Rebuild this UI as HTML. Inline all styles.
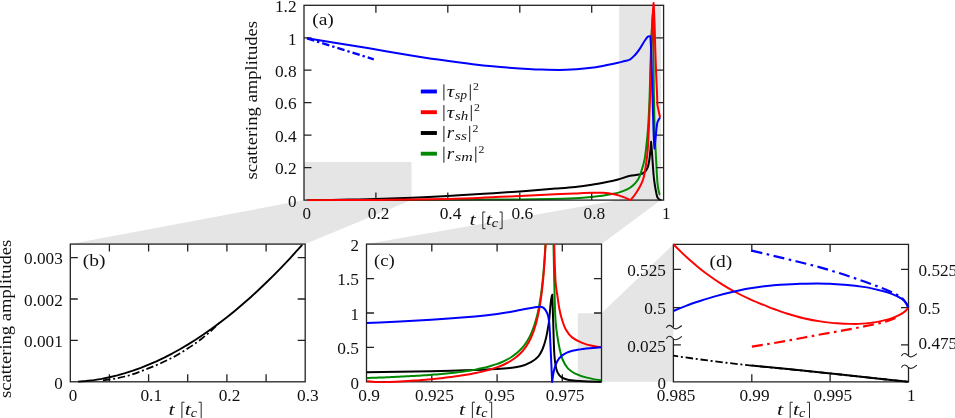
<!DOCTYPE html>
<html><head><meta charset="utf-8"><title>scattering amplitudes</title>
<style>
html,body{margin:0;padding:0;background:#fff;}
body{width:955px;height:418px;overflow:hidden;}
svg{display:block;}
text{font-family:"Liberation Serif",serif;fill:#111;}
.it{font-style:italic;}
</style></head><body>
<div style="will-change:transform;width:955px;height:418px"><svg width="955" height="418" viewBox="0 0 955 418">
<rect width="955" height="418" fill="#fff"/>
<polygon points="304.0,162.0 411.5,162.0 411.5,200.1 304.0,200.1" fill="#e5e5e5"/>
<polygon points="619.2,5.3 661.0,5.3 661.0,200.1 619.2,200.1" fill="#e5e5e5"/>
<polygon points="304.0,200.1 411.5,200.1 305.2,244.1 70.3,244.1" fill="#e5e5e5"/>
<polygon points="619.2,200.1 661.0,200.1 601.5,244.1 366.5,244.1" fill="#e5e5e5"/>
<polygon points="577.8,313.2 601.5,313.2 601.5,381.8 577.8,381.8" fill="#e5e5e5"/>
<polygon points="601.5,313.2 673.4,244.4 673.4,381.8 601.5,381.8" fill="#e5e5e5"/>
<clipPath id="clipa"><rect x="304.0" y="0" width="359.6" height="201.29999999999998"/></clipPath>
<g clip-path="url(#clipa)">
<path d="M307.00,38.40 L373.80,59.30" fill="none" stroke="#0000ff" stroke-width="2.3" stroke-linejoin="round" stroke-dasharray="7.5 3 2.4 3" />
<path d="M307.24,200.10 C312.15,200.08 317.07,200.05 321.98,200.00 C327.97,199.95 333.97,199.86 339.96,199.76 C345.95,199.67 351.95,199.54 357.94,199.40 C363.93,199.26 369.93,199.10 375.92,198.92 C387.91,198.55 399.89,198.12 411.88,197.63 C423.87,197.14 435.85,196.55 447.84,195.93 C459.83,195.30 471.81,194.60 483.80,193.84 C495.79,193.09 507.77,192.26 519.76,191.39 C531.75,190.51 543.73,189.56 555.72,188.57 C562.19,188.04 568.67,187.57 575.14,186.90 C580.66,186.33 586.18,185.63 591.70,184.80 C596.73,184.04 601.77,183.02 606.80,182.00 C610.53,181.24 614.27,180.46 618.00,179.50 C622.07,178.46 626.13,176.53 630.20,175.80 C633.27,175.25 636.33,175.25 639.40,174.60 C641.07,174.25 642.73,173.59 644.40,172.40 C645.47,171.64 646.53,170.05 647.60,167.50 C648.20,166.07 648.80,163.26 649.40,159.50 C649.73,157.41 650.07,153.52 650.40,150.00 C650.63,147.54 650.87,144.75 651.10,141.80 C651.33,144.23 651.57,147.00 651.80,150.00 C652.03,153.00 652.27,156.74 652.50,160.00 C652.87,165.13 653.23,171.14 653.60,175.00 C653.87,177.81 654.13,180.05 654.40,182.00 C654.83,185.18 655.27,187.79 655.70,190.00 C656.27,192.89 656.83,196.21 657.40,197.30 C657.93,198.33 658.47,199.04 659.00,199.30 C659.83,199.70 660.67,200.00 661.50,200.00" fill="none" stroke="#000" stroke-width="2.0" stroke-linejoin="round" />
<path d="M307.00,200.10 C338.00,200.06 369.00,199.99 400.00,199.90 C426.67,199.83 453.33,199.72 480.00,199.60 C493.00,199.54 506.00,199.50 519.00,199.40 C529.33,199.32 539.67,199.19 550.00,199.00 C558.47,198.84 566.93,198.58 575.40,198.20 C580.83,197.95 586.27,197.51 591.70,197.00 C594.47,196.74 597.23,196.38 600.00,196.00 C602.27,195.69 604.53,195.28 606.80,194.90 C608.87,194.55 610.93,194.21 613.00,193.80 C615.10,193.39 617.20,192.98 619.30,192.40 C622.07,191.63 624.83,190.61 627.60,189.20 C629.57,188.20 631.53,186.78 633.50,185.00 C634.90,183.73 636.30,182.11 637.70,180.00 C638.27,179.15 638.83,178.08 639.40,176.80 C640.50,174.31 641.60,170.63 642.70,166.80 C643.40,164.36 644.10,162.20 644.80,158.40 C645.17,156.41 645.53,153.13 645.90,150.00 C646.57,144.30 647.23,138.79 647.90,130.00 C648.43,122.96 648.97,113.21 649.50,100.00 C649.87,90.92 650.23,73.06 650.60,62.00 C651.00,49.94 651.40,37.50 651.80,30.00 C652.17,23.13 652.53,17.21 652.90,14.00 C653.03,20.59 653.17,29.58 653.30,40.00 C653.47,53.03 653.63,78.60 653.80,90.00 C654.07,108.25 654.33,122.26 654.60,130.00 C654.93,139.68 655.27,143.57 655.60,150.00 C655.90,155.79 656.20,161.48 656.50,166.80 C656.80,172.12 657.10,178.77 657.40,182.00 C657.67,184.88 657.93,186.95 658.20,188.40 C658.77,191.49 659.33,194.39 659.90,195.00" fill="none" stroke="#008800" stroke-width="2.0" stroke-linejoin="round" />
</g>
<rect x="304.0" y="5.3" width="359.6" height="194.8" fill="none" stroke="#222" stroke-width="1.3"/>
<path d="M375.9,200.1 v-7.5 M375.9,5.3 v7.5 M447.8,200.1 v-7.5 M447.8,5.3 v7.5 M519.8,200.1 v-7.5 M519.8,5.3 v7.5 M591.7,200.1 v-7.5 M591.7,5.3 v7.5 M304.0,167.6 h7.5 M304.0,135.2 h7.5 M304.0,102.7 h7.5 M304.0,70.2 h7.5 M304.0,37.8 h7.5 M663.6,167.6 h-7.5 M663.6,135.2 h-7.5 M663.6,102.7 h-7.5 M663.6,70.2 h-7.5 M663.6,37.8 h-7.5 " fill="none" stroke="#222" stroke-width="1.3"/>
<g clip-path="url(#clipa)">
<path d="M307.00,200.20 C318.00,200.18 329.00,200.14 340.00,200.10 C352.00,200.05 364.00,199.99 376.00,199.90 C388.00,199.81 400.00,199.66 412.00,199.50 C424.00,199.34 436.00,199.17 448.00,198.90 C460.00,198.63 472.00,198.11 484.00,197.60 C489.33,197.37 494.67,197.04 500.00,196.80 C506.67,196.50 513.33,196.30 520.00,196.00 C530.00,195.55 540.00,194.86 550.00,194.40 C558.33,194.02 566.67,193.71 575.00,193.40 C580.57,193.19 586.13,192.80 591.70,192.80 C595.47,192.80 599.23,192.80 603.00,192.80 C605.33,192.80 607.67,193.10 610.00,193.40 C611.00,193.53 612.00,193.78 613.00,194.00 C615.10,194.46 617.20,194.98 619.30,195.60 C621.23,196.17 623.17,196.82 625.10,197.60 C626.23,198.06 627.37,198.69 628.50,199.20 C629.20,199.51 629.90,199.81 630.60,200.10 C631.40,199.20 632.20,198.23 633.00,197.20 C633.73,196.26 634.47,195.27 635.20,194.20 C636.60,192.16 638.00,190.08 639.40,187.50 C640.63,185.23 641.87,183.31 643.10,179.50 C644.10,176.41 645.10,170.67 646.10,164.00 C646.63,160.44 647.17,156.50 647.70,150.00 C648.13,144.72 648.57,134.82 649.00,125.00 C649.37,116.69 649.73,107.17 650.10,95.00 C650.37,86.15 650.63,71.90 650.90,62.00 C651.17,52.10 651.43,41.76 651.70,35.00 C652.03,26.55 652.37,20.31 652.70,15.00 C653.00,10.22 653.30,6.05 653.60,3.00 C653.93,7.64 654.27,15.80 654.60,25.00 C654.83,31.44 655.07,42.67 655.30,50.00 C655.60,59.42 655.90,67.56 656.20,75.00 C656.47,81.62 656.73,87.66 657.00,93.00 L657.4,105 L660.1,117.6" fill="none" stroke="#ff0000" stroke-width="2.0" stroke-linejoin="round" />
<path d="M307.00,38.30 C316.20,39.81 325.40,41.32 334.60,42.80 C346.10,44.65 357.60,46.41 369.10,48.30 C380.63,50.20 392.17,52.32 403.70,54.20 C415.20,56.08 426.70,57.95 438.20,59.60 C449.73,61.26 461.27,62.89 472.80,64.20 C484.30,65.50 495.80,66.76 507.30,67.60 C518.83,68.44 530.37,69.31 541.90,69.60 C547.67,69.75 553.43,69.90 559.20,69.90 C564.93,69.90 570.67,69.60 576.40,69.30 C582.17,69.00 587.93,68.35 593.70,67.60 C598.60,66.96 603.50,65.80 608.40,64.80 C611.93,64.08 615.47,63.31 619.00,62.50 C621.33,61.96 623.67,61.49 626.00,60.80 C627.40,60.39 628.80,60.01 630.20,59.30 C631.80,58.49 633.40,56.70 635.00,55.00 C636.47,53.44 637.93,51.39 639.40,49.30 C641.33,46.54 643.27,42.73 645.20,40.00 C646.00,38.87 646.80,37.52 647.60,36.90 C648.00,36.59 648.40,36.20 648.80,36.20 C649.30,36.20 649.80,36.20 650.30,36.30 C650.50,37.82 650.70,41.16 650.90,45.00 C651.10,48.84 651.30,55.77 651.50,62.00 C651.77,70.31 652.03,80.89 652.30,90.00 C652.60,100.25 652.90,110.80 653.20,120.00 C653.43,127.16 653.67,135.62 653.90,140.00 C654.10,143.76 654.30,147.00 654.50,148.50 C654.73,147.04 654.97,145.17 655.20,143.00 C655.50,140.22 655.80,135.42 656.10,132.60 C656.53,128.53 656.97,124.00 657.40,122.50 C657.77,121.23 658.13,120.67 658.50,120.00 C659.03,119.02 659.57,118.16 660.10,117.60" fill="none" stroke="#0000ff" stroke-width="2.0" stroke-linejoin="round" />
</g>
<text x="288.1" y="206.8" font-size="16.5" textLength="8.5" lengthAdjust="spacingAndGlyphs" >0</text>
<text x="274.9" y="174.3" font-size="16.5" textLength="21.7" lengthAdjust="spacingAndGlyphs" >0.2</text>
<text x="274.9" y="141.9" font-size="16.5" textLength="21.7" lengthAdjust="spacingAndGlyphs" >0.4</text>
<text x="274.9" y="109.4" font-size="16.5" textLength="21.7" lengthAdjust="spacingAndGlyphs" >0.6</text>
<text x="274.9" y="76.9" font-size="16.5" textLength="21.7" lengthAdjust="spacingAndGlyphs" >0.8</text>
<text x="288.1" y="44.5" font-size="16.5" textLength="8.5" lengthAdjust="spacingAndGlyphs" >1</text>
<text x="274.9" y="12.0" font-size="16.5" textLength="21.7" lengthAdjust="spacingAndGlyphs" >1.2</text>
<text x="302.4" y="219.1" font-size="16.5" textLength="8.5" lengthAdjust="spacingAndGlyphs" >0</text>
<text x="367.8" y="219.1" font-size="16.5" textLength="21.7" lengthAdjust="spacingAndGlyphs" >0.2</text>
<text x="439.7" y="219.1" font-size="16.5" textLength="21.7" lengthAdjust="spacingAndGlyphs" >0.4</text>
<text x="511.6" y="219.1" font-size="16.5" textLength="21.7" lengthAdjust="spacingAndGlyphs" >0.6</text>
<text x="583.5" y="219.1" font-size="16.5" textLength="21.7" lengthAdjust="spacingAndGlyphs" >0.8</text>
<text x="662.1" y="219.1" font-size="16.5" textLength="8.5" lengthAdjust="spacingAndGlyphs" >1</text>
<text x="469.5" y="224.7" font-size="17.2" class="it" fill="#222" textLength="6.2" lengthAdjust="spacingAndGlyphs">t</text>
<text x="485.7" y="224.7" font-size="17.2" class="it" fill="#222" textLength="6.2" lengthAdjust="spacingAndGlyphs">t</text>
<text x="491.7" y="227.1" font-size="12.2" class="it" fill="#222" textLength="6.2" lengthAdjust="spacingAndGlyphs">c</text>
<path d="M485.4,212.0 h-2.6 v16.7 h2.6 M499.5,212.0 h2.6 v16.7 h-2.6" fill="none" stroke="#111" stroke-width="0.9"/>
<text transform="translate(256.5,100.2) rotate(-90)" x="-79.2" y="0" font-size="16.5" textLength="158.4" lengthAdjust="spacingAndGlyphs">scattering amplitudes</text>
<text x="312.2" y="25.1" font-size="16.5" textLength="21.7" lengthAdjust="spacingAndGlyphs" >(a)</text>
<path d="M420.8,91.5 H436.9" stroke="#0000ff" stroke-width="3.9" fill="none"/>
<path d="M443.9,84.4 v16.1 M470.3,84.4 v16.1" stroke="#111" stroke-width="0.95" fill="none"/>
<text x="446.8" y="96.9" font-size="16.5" class="it" textLength="7.4" lengthAdjust="spacingAndGlyphs">τ</text>
<text x="455.0" y="98.9" font-size="11.8" class="it" textLength="12.1" lengthAdjust="spacingAndGlyphs">sp</text>
<text x="473.1" y="90.3" font-size="10.6" textLength="5.9" lengthAdjust="spacingAndGlyphs">2</text>
<path d="M420.8,112.2 H436.9" stroke="#ff0000" stroke-width="3.9" fill="none"/>
<path d="M443.9,105.1 v16.1 M471.3,105.1 v16.1" stroke="#111" stroke-width="0.95" fill="none"/>
<text x="446.8" y="117.6" font-size="16.5" class="it" textLength="7.4" lengthAdjust="spacingAndGlyphs">τ</text>
<text x="455.0" y="119.6" font-size="11.8" class="it" textLength="13.3" lengthAdjust="spacingAndGlyphs">sh</text>
<text x="474.1" y="111.0" font-size="10.6" textLength="5.9" lengthAdjust="spacingAndGlyphs">2</text>
<path d="M420.8,133.0 H436.9" stroke="#000" stroke-width="3.9" fill="none"/>
<path d="M443.9,125.9 v16.1 M469.7,125.9 v16.1" stroke="#111" stroke-width="0.95" fill="none"/>
<text x="446.8" y="138.4" font-size="16.5" class="it" textLength="7.4" lengthAdjust="spacingAndGlyphs">r</text>
<text x="455.0" y="140.4" font-size="11.8" class="it" textLength="11.8" lengthAdjust="spacingAndGlyphs">ss</text>
<text x="472.5" y="131.8" font-size="10.6" textLength="5.9" lengthAdjust="spacingAndGlyphs">2</text>
<path d="M420.8,153.7 H436.9" stroke="#008800" stroke-width="3.9" fill="none"/>
<path d="M443.9,146.6 v16.1 M475.8,146.6 v16.1" stroke="#111" stroke-width="0.95" fill="none"/>
<text x="446.8" y="159.1" font-size="16.5" class="it" textLength="7.4" lengthAdjust="spacingAndGlyphs">r</text>
<text x="455.0" y="161.1" font-size="11.8" class="it" textLength="17.7" lengthAdjust="spacingAndGlyphs">sm</text>
<text x="478.6" y="152.5" font-size="10.6" textLength="5.9" lengthAdjust="spacingAndGlyphs">2</text>
<rect x="70.3" y="244.1" width="234.9" height="137.7" fill="none" stroke="#222" stroke-width="1.3"/>
<path d="M109.4,381.8 v-7.5 M109.4,244.1 v7.5 M148.6,381.8 v-7.5 M148.6,244.1 v7.5 M187.7,381.8 v-7.5 M187.7,244.1 v7.5 M226.9,381.8 v-7.5 M226.9,244.1 v7.5 M266.1,381.8 v-7.5 M266.1,244.1 v7.5 M70.3,340.4 h7.5 M70.3,299.0 h7.5 M70.3,257.6 h7.5 M305.2,340.4 h-7.5 M305.2,299.0 h-7.5 M305.2,257.6 h-7.5 " fill="none" stroke="#222" stroke-width="1.3"/>
<path d="M78.13,381.59 L85.96,381.02 L93.79,380.10 L101.62,378.85 L109.45,377.27 L117.28,375.38 L125.11,373.17 L132.94,370.66 L140.77,367.84 L148.60,364.71 L156.43,361.28 L164.26,357.56 L172.09,353.54 L179.92,349.23 L187.75,344.62 L195.58,339.72 L203.41,334.54 L211.24,329.06 L219.07,323.30 L226.90,317.26 L234.73,310.93 L242.56,304.32 L250.39,297.43 L258.22,290.26 L266.05,282.81 L273.88,275.08 L281.71,267.07 L289.54,258.79 L297.37,250.23 L302.22,244.78" fill="none" stroke="#000" stroke-width="1.9" stroke-linejoin="round" />
<path d="M103.00,380.40 C110.33,379.71 117.67,378.22 125.00,376.50 C132.77,374.68 140.53,371.43 148.30,368.40 C155.90,365.44 163.50,362.17 171.10,358.30 C176.60,355.50 182.10,352.11 187.60,348.60 C191.73,345.96 195.87,343.11 200.00,340.00 C203.07,337.69 206.13,335.18 209.20,332.50 C212.63,329.50 216.07,326.26 219.50,322.80" fill="none" stroke="#000" stroke-width="1.75" stroke-linejoin="round" stroke-dasharray="7.5 2.75 2 2.75" />
<text x="54.3" y="388.5" font-size="16.5" textLength="8.5" lengthAdjust="spacingAndGlyphs" >0</text>
<text x="24.1" y="347.1" font-size="16.5" textLength="38.7" lengthAdjust="spacingAndGlyphs" >0.001</text>
<text x="24.1" y="305.7" font-size="16.5" textLength="38.7" lengthAdjust="spacingAndGlyphs" >0.002</text>
<text x="24.1" y="264.3" font-size="16.5" textLength="38.7" lengthAdjust="spacingAndGlyphs" >0.003</text>
<text x="68.8" y="401.3" font-size="16.5" textLength="8.5" lengthAdjust="spacingAndGlyphs" >0</text>
<text x="140.4" y="401.3" font-size="16.5" textLength="21.7" lengthAdjust="spacingAndGlyphs" >0.1</text>
<text x="218.7" y="401.3" font-size="16.5" textLength="21.7" lengthAdjust="spacingAndGlyphs" >0.2</text>
<text x="297.0" y="401.3" font-size="16.5" textLength="21.7" lengthAdjust="spacingAndGlyphs" >0.3</text>
<text x="168.6" y="414.9" font-size="17.2" class="it" fill="#222" textLength="6.2" lengthAdjust="spacingAndGlyphs">t</text>
<text x="184.8" y="414.9" font-size="17.2" class="it" fill="#222" textLength="6.2" lengthAdjust="spacingAndGlyphs">t</text>
<text x="190.8" y="417.3" font-size="12.2" class="it" fill="#222" textLength="6.2" lengthAdjust="spacingAndGlyphs">c</text>
<path d="M184.5,402.2 h-2.6 v16.7 h2.6 M198.6,402.2 h2.6 v16.7 h-2.6" fill="none" stroke="#111" stroke-width="0.9"/>
<text transform="translate(11.4,318.9) rotate(-90)" x="-79.2" y="0" font-size="16.5" textLength="158.4" lengthAdjust="spacingAndGlyphs">scattering amplitudes</text>
<text x="82.7" y="266.0" font-size="16.5" textLength="22.7" lengthAdjust="spacingAndGlyphs" >(b)</text>
<rect x="366.5" y="244.1" width="235.0" height="137.7" fill="none" stroke="#222" stroke-width="1.3"/>
<path d="M431.8,381.8 v-7.5 M431.8,244.1 v7.5 M497.1,381.8 v-7.5 M497.1,244.1 v7.5 M562.3,381.8 v-7.5 M562.3,244.1 v7.5 M366.5,347.4 h7.5 M366.5,313.0 h7.5 M366.5,278.6 h7.5 M601.5,347.4 h-7.5 M601.5,313.0 h-7.5 M601.5,278.6 h-7.5 " fill="none" stroke="#222" stroke-width="1.3"/>
<clipPath id="clipc"><rect x="366.5" y="244.1" width="235.0" height="138.9"/></clipPath>
<g clip-path="url(#clipc)">
<path d="M366.50,372.20 C388.00,372.02 409.50,371.63 431.00,371.20 C442.33,370.97 453.67,370.66 465.00,370.30 C475.67,369.96 486.33,369.59 497.00,369.00 C501.33,368.76 505.67,368.46 510.00,368.00 C513.50,367.63 517.00,367.11 520.50,366.30 C524.00,365.49 527.50,363.99 531.00,362.10 C533.47,360.77 535.93,359.06 538.40,356.30 C539.80,354.73 541.20,352.17 542.60,349.00 C543.67,346.59 544.73,343.19 545.80,339.00 C546.50,336.25 547.20,332.41 547.90,328.40 C548.33,325.92 548.77,323.59 549.20,320.00 C549.63,316.41 550.07,308.90 550.50,305.00 C550.83,302.00 551.17,299.07 551.50,297.50 C551.77,296.24 552.03,295.16 552.30,294.70 C552.60,303.85 552.90,312.95 553.20,322.00 C553.53,332.06 553.87,346.73 554.20,352.00 C554.57,357.80 554.93,361.46 555.30,363.70 C556.00,367.97 556.70,370.67 557.40,372.10 C558.80,374.95 560.20,376.58 561.60,377.40 C564.03,378.82 566.47,379.63 568.90,380.00 C573.83,380.75 578.77,381.12 583.70,381.30 C589.63,381.52 595.57,381.70 601.50,381.70" fill="none" stroke="#000" stroke-width="2.0" stroke-linejoin="round" />
<path d="M366.50,377.99 C368.17,377.94 369.83,377.89 371.50,377.83 C373.17,377.77 374.83,377.71 376.50,377.65 C378.17,377.59 379.83,377.53 381.50,377.47 C383.17,377.41 384.83,377.34 386.50,377.27 C388.17,377.21 389.83,377.14 391.50,377.07 C393.17,376.99 394.83,376.92 396.50,376.84 C398.17,376.77 399.83,376.69 401.50,376.61 C403.17,376.53 404.83,376.44 406.50,376.35 C408.17,376.27 409.83,376.18 411.50,376.08 C413.17,375.99 414.83,375.90 416.50,375.79 C418.17,375.69 419.83,375.59 421.50,375.48 C423.17,375.37 424.83,375.26 426.50,375.15 C428.17,375.03 429.83,374.91 431.50,374.78 C433.17,374.66 434.83,374.52 436.50,374.39 C438.17,374.25 439.83,374.11 441.50,373.96 C443.17,373.81 444.83,373.65 446.50,373.48 C448.17,373.32 449.83,373.15 451.50,372.97 C453.17,372.78 454.83,372.59 456.50,372.39 C458.17,372.19 459.83,371.98 461.50,371.76 C463.17,371.54 464.83,371.30 466.50,371.05 C468.17,370.80 469.83,370.54 471.50,370.26 C473.17,369.98 474.83,369.68 476.50,369.36 C478.17,369.04 479.83,368.70 481.50,368.34 C483.17,367.97 484.83,367.58 486.50,367.16 C488.17,366.74 489.83,366.28 491.50,365.79 C493.17,365.30 494.83,364.76 496.50,364.18 C498.17,363.59 499.83,362.96 501.50,362.25 C503.17,361.55 504.83,360.78 506.50,359.91 C508.17,359.05 509.83,358.09 511.50,357.01 C513.18,355.92 514.86,354.71 516.54,353.32 C518.25,351.90 519.95,350.33 521.66,348.44 C523.37,346.56 525.08,344.39 526.79,341.74 C528.50,339.08 530.20,335.96 531.91,331.91 C533.61,327.89 535.30,322.83 537.00,316.12 C538.17,311.51 539.33,305.11 540.50,297.85 C540.83,295.77 541.17,293.26 541.50,290.67 C541.83,288.07 542.17,285.27 542.50,282.18 C542.83,279.10 543.17,275.73 543.50,272.00 C543.83,268.27 544.17,264.16 544.50,259.56 C544.83,254.95 545.17,249.70 545.50,244.00" fill="none" stroke="#008800" stroke-width="2.0" stroke-linejoin="round" />
<path d="M553.50,244.30 C553.73,257.85 553.97,270.82 554.20,280.00 C554.63,297.05 555.07,313.92 555.50,320.00 C556.13,328.89 556.77,332.24 557.40,336.50 C558.27,342.33 559.13,346.85 560.00,350.50 C560.87,354.15 561.73,357.46 562.60,359.50 C564.37,363.66 566.13,366.59 567.90,368.40 C570.37,370.93 572.83,372.51 575.30,373.70 C578.80,375.39 582.30,376.53 585.80,377.40 C591.03,378.70 596.27,379.86 601.50,380.30" fill="none" stroke="#008800" stroke-width="2.0" stroke-linejoin="round" />
<path d="M366.50,381.30 C369.33,381.54 372.17,381.74 375.00,381.90 C377.10,382.02 379.20,382.12 381.30,382.20 C384.20,382.11 387.10,382.01 390.00,381.90 C393.33,381.78 396.67,381.66 400.00,381.50 C405.00,381.26 410.00,380.96 415.00,380.60 C420.33,380.22 425.67,379.71 431.00,379.20 C432.67,379.04 434.33,378.87 436.00,378.69 C437.67,378.52 439.33,378.34 441.00,378.15 C442.67,377.97 444.33,377.78 446.00,377.58 C447.67,377.38 449.33,377.17 451.00,376.96 C452.67,376.75 454.33,376.52 456.00,376.29 C457.67,376.06 459.33,375.82 461.00,375.57 C462.67,375.32 464.33,375.05 466.00,374.78 C467.67,374.50 469.33,374.21 471.00,373.91 C472.67,373.60 474.33,373.28 476.00,372.95 C477.67,372.61 479.33,372.25 481.00,371.87 C482.67,371.49 484.33,371.08 486.00,370.65 C487.67,370.22 489.33,369.76 491.00,369.26 C492.67,368.76 494.33,368.23 496.00,367.65 C497.67,367.07 499.33,366.45 501.00,365.76 C502.67,365.07 504.33,364.33 506.00,363.50 C507.67,362.67 509.33,361.76 511.00,360.73 C512.67,359.70 514.33,358.56 516.00,357.25 C517.67,355.95 519.33,354.47 521.00,352.74 C522.67,351.00 524.33,349.02 526.00,346.60 C527.67,344.18 529.33,341.35 531.00,337.74 C532.67,334.12 534.33,329.66 536.00,323.75 C537.33,319.02 538.67,312.51 540.00,304.88 C540.33,302.98 540.67,300.62 541.00,298.22 C541.33,295.81 541.67,293.20 542.00,290.34 C542.33,287.48 542.67,284.36 543.00,280.89 C543.33,277.43 543.67,273.63 544.00,269.36 C544.33,265.08 544.67,260.32 545.00,254.94 C545.30,250.10 545.60,244.53 545.90,238.50" fill="none" stroke="#ff0000" stroke-width="2.0" stroke-linejoin="round" />
<path d="M554.20,244.30 C554.67,260.80 555.13,276.30 555.60,282.00 C556.20,289.33 556.80,291.56 557.40,295.80 C558.10,300.74 558.80,305.93 559.50,309.50 C560.20,313.07 560.90,315.96 561.60,318.30 C563.00,322.98 564.40,327.05 565.80,329.50 C567.90,333.17 570.00,335.76 572.10,337.40 C575.27,339.88 578.43,341.35 581.60,342.60 C585.10,343.98 588.60,345.10 592.10,345.80 C595.23,346.42 598.37,346.96 601.50,347.20" fill="none" stroke="#ff0000" stroke-width="2.0" stroke-linejoin="round" />
<path d="M366.50,323.00 C377.67,322.51 388.83,321.97 400.00,321.40 C410.40,320.87 420.80,320.34 431.20,319.70 C442.47,319.01 453.73,318.23 465.00,317.30 C471.67,316.75 478.33,316.12 485.00,315.40 C489.07,314.96 493.13,314.46 497.20,313.90 C501.47,313.31 505.73,312.63 510.00,311.90 C513.33,311.33 516.67,310.63 520.00,310.00 C523.67,309.30 527.33,308.51 531.00,307.90 C533.00,307.57 535.00,307.16 537.00,307.00 C538.17,306.91 539.33,306.80 540.50,306.80 C541.33,306.80 542.17,307.13 543.00,307.50 C543.57,307.75 544.13,308.35 544.70,309.00 C545.60,310.03 546.50,311.35 547.40,313.70 C548.00,315.26 548.60,317.42 549.20,322.00 C549.63,325.30 550.07,337.43 550.50,346.00 C550.80,351.93 551.10,358.20 551.40,365.00 C551.63,370.29 551.87,376.01 552.10,382.00 C552.27,381.15 552.43,379.73 552.60,378.51 C552.83,376.81 553.07,375.32 553.30,374.01 C553.53,372.71 553.77,371.58 554.00,370.56 C554.23,369.55 554.47,368.64 554.70,367.83 C554.97,366.91 555.23,366.08 555.50,365.34 C555.77,364.60 556.03,363.93 556.30,363.32 C556.63,362.57 556.97,361.90 557.30,361.29 C557.67,360.63 558.03,360.04 558.40,359.51 C558.80,358.93 559.20,358.42 559.60,357.95 C560.07,357.41 560.53,356.93 561.00,356.50 C561.57,355.98 562.13,355.51 562.70,355.10 C563.37,354.62 564.03,354.20 564.70,353.83 C565.47,353.40 566.23,353.02 567.00,352.69 C568.00,352.26 569.00,351.89 570.00,351.56 C571.17,351.19 572.33,350.87 573.50,350.59 C574.80,350.27 576.10,350.00 577.40,349.77 C579.27,349.44 581.13,349.15 583.00,348.92 C585.33,348.62 587.67,348.38 590.00,348.17 C592.00,347.99 594.00,347.84 596.00,347.71 C597.83,347.58 599.67,347.47 601.50,347.37" fill="none" stroke="#0000ff" stroke-width="2.0" stroke-linejoin="round" />
</g>
<text x="350.5" y="388.5" font-size="16.5" textLength="8.5" lengthAdjust="spacingAndGlyphs" >0</text>
<text x="337.3" y="354.1" font-size="16.5" textLength="21.7" lengthAdjust="spacingAndGlyphs" >0.5</text>
<text x="350.5" y="319.7" font-size="16.5" textLength="8.5" lengthAdjust="spacingAndGlyphs" >1</text>
<text x="337.3" y="285.3" font-size="16.5" textLength="21.7" lengthAdjust="spacingAndGlyphs" >1.5</text>
<text x="350.5" y="250.9" font-size="16.5" textLength="8.5" lengthAdjust="spacingAndGlyphs" >2</text>
<text x="358.3" y="401.3" font-size="16.5" textLength="21.7" lengthAdjust="spacingAndGlyphs" >0.9</text>
<text x="415.1" y="401.3" font-size="16.5" textLength="38.7" lengthAdjust="spacingAndGlyphs" >0.925</text>
<text x="484.6" y="401.3" font-size="16.5" textLength="30.2" lengthAdjust="spacingAndGlyphs" >0.95</text>
<text x="545.7" y="401.3" font-size="16.5" textLength="38.7" lengthAdjust="spacingAndGlyphs" >0.975</text>
<text x="459.1" y="414.9" font-size="17.2" class="it" fill="#222" textLength="6.2" lengthAdjust="spacingAndGlyphs">t</text>
<text x="475.3" y="414.9" font-size="17.2" class="it" fill="#222" textLength="6.2" lengthAdjust="spacingAndGlyphs">t</text>
<text x="481.3" y="417.3" font-size="12.2" class="it" fill="#222" textLength="6.2" lengthAdjust="spacingAndGlyphs">c</text>
<path d="M475.0,402.2 h-2.6 v16.7 h2.6 M489.1,402.2 h2.6 v16.7 h-2.6" fill="none" stroke="#111" stroke-width="0.9"/>
<text x="373.9" y="266.0" font-size="16.5" textLength="20.8" lengthAdjust="spacingAndGlyphs" >(c)</text>
<path d="M673.4,327.4 L673.4,244.4 L908.5,244.4 L908.5,355.5 M908.5,367.0 L908.5,381.8 L673.4,381.8 L673.4,338.4" fill="none" stroke="#222" stroke-width="1.3" stroke-linejoin="miter"/>
<path d="M751.8,381.8 v-7.5 M751.8,244.4 v7.5 M830.1,381.8 v-7.5 M830.1,244.4 v7.5 M673.4,269.4 h7.5 M673.4,307.6 h7.5 M673.4,344.8 h7.5 M908.5,269.4 h-7.5 M908.5,307.6 h-7.5 M908.5,344.8 h-7.5 " fill="none" stroke="#222" stroke-width="1.3"/>
<path d="M666.3,327.8 C667.9,324.6 670.6,324.6 673.0,327.6 C674.9,329.8 677.9,329.0 681.8,325.5" fill="none" stroke="#222" stroke-width="1.1"/>
<path d="M666.3,338.7 C667.9,335.5 670.6,335.5 673.0,338.5 C674.9,340.7 677.9,339.9 681.8,336.4" fill="none" stroke="#222" stroke-width="1.1"/>
<path d="M901.4,355.9 C903.0,352.7 905.7,352.7 908.1,355.7 C910.0,357.9 913.0,357.1 916.9,353.6" fill="none" stroke="#222" stroke-width="1.1"/>
<path d="M901.4,367.4 C903.0,364.2 905.7,364.2 908.1,367.2 C910.0,369.4 913.0,368.6 916.9,365.1" fill="none" stroke="#222" stroke-width="1.1"/>
<path d="M751.60,365.60 C767.73,367.10 783.87,368.67 800.00,370.30 C816.67,371.99 833.33,373.83 850.00,375.60 C869.47,377.67 888.93,379.73 908.40,381.80" fill="none" stroke="#000" stroke-width="2.0" stroke-linejoin="round" />
<path d="M673.40,355.70 C686.27,357.60 699.13,359.38 712.00,361.00 C725.20,362.66 738.40,364.20 751.60,365.60 C767.73,367.31 783.87,368.67 800.00,370.30 C816.67,371.99 833.33,373.83 850.00,375.60 C869.47,377.67 888.93,379.73 908.40,381.80" fill="none" stroke="#000" stroke-width="1.8" stroke-linejoin="round" stroke-dasharray="7.5 2.75 2 2.75" stroke-dashoffset="2.7"/>
<path d="M751.60,250.60 C764.40,253.60 777.20,256.67 790.00,259.80 C799.10,262.03 808.20,264.12 817.30,266.60 C826.40,269.08 835.50,271.87 844.60,274.80 C853.70,277.73 862.80,280.89 871.90,284.30 C878.70,286.85 885.50,289.14 892.30,292.50 C895.87,294.26 899.43,295.70 903.00,299.00 C904.80,300.66 906.60,304.14 908.40,307.60" fill="none" stroke="#0000ff" stroke-width="2.2" stroke-linejoin="round" stroke-dasharray="11 4.5 2.6 4.5" />
<path d="M751.90,346.60 C764.60,344.63 777.30,342.48 790.00,340.20 C799.10,338.57 808.20,336.66 817.30,335.00 C826.40,333.34 835.50,331.89 844.60,330.20 C851.40,328.94 858.20,327.61 865.00,326.20 C871.83,324.78 878.67,323.65 885.50,321.70 C890.00,320.42 894.50,318.53 899.00,316.50" fill="none" stroke="#ff0000" stroke-width="2.2" stroke-linejoin="round" stroke-dasharray="11 4.5 2.6 4.5" />
<path d="M673.40,244.30 C676.20,247.15 679.00,249.92 681.80,252.60 C684.57,255.25 687.33,257.85 690.10,260.30 C692.90,262.78 695.70,265.13 698.50,267.40 C701.77,270.05 705.03,272.62 708.30,275.00 C712.50,278.06 716.70,280.94 720.90,283.60 C725.37,286.43 729.83,289.09 734.30,291.50 C739.63,294.37 744.97,297.00 750.30,299.40 C755.87,301.91 761.43,304.10 767.00,306.30 C769.80,307.41 772.60,308.48 775.40,309.50 C779.20,310.89 783.00,312.30 786.80,313.50 C792.37,315.25 797.93,316.94 803.50,318.20 C809.10,319.47 814.70,320.60 820.30,321.40 C825.87,322.19 831.43,322.94 837.00,323.30 C841.33,323.58 845.67,323.80 850.00,323.90 C852.00,323.95 854.00,324.00 856.00,324.00 C861.30,324.00 866.60,323.32 871.90,322.70 C877.33,322.07 882.77,320.87 888.20,319.40 C891.83,318.42 895.47,317.03 899.10,315.20 C901.40,314.04 903.70,312.60 906.00,310.50 C906.80,309.77 907.60,308.68 908.40,307.60" fill="none" stroke="#ff0000" stroke-width="1.95" stroke-linejoin="round" />
<path d="M673.40,311.00 C677.60,309.13 681.80,307.38 686.00,305.80 C690.67,304.05 695.33,302.51 700.00,301.00 C705.60,299.19 711.20,297.44 716.80,295.90 C722.63,294.29 728.47,292.80 734.30,291.50 C739.63,290.31 744.97,289.17 750.30,288.30 C755.87,287.39 761.43,286.61 767.00,286.00 C771.33,285.52 775.67,285.10 780.00,284.80 C786.67,284.33 793.33,283.87 800.00,283.70 C805.77,283.55 811.53,283.40 817.30,283.40 C821.53,283.40 825.77,283.55 830.00,283.70 C834.87,283.87 839.73,284.28 844.60,284.70 C851.40,285.28 858.20,286.05 865.00,287.10 C869.10,287.73 873.20,288.74 877.30,289.70 C880.03,290.34 882.77,291.00 885.50,291.80 C887.77,292.46 890.03,293.20 892.30,294.10 C895.50,295.38 898.70,296.68 901.90,298.90 C903.47,299.99 905.03,301.31 906.60,303.60 C907.20,304.48 907.80,306.06 908.40,307.60" fill="none" stroke="#0000ff" stroke-width="1.95" stroke-linejoin="round" />
<text x="657.4" y="388.5" font-size="16.5" textLength="8.5" lengthAdjust="spacingAndGlyphs" >0</text>
<text x="627.2" y="351.5" font-size="16.5" textLength="38.7" lengthAdjust="spacingAndGlyphs" >0.025</text>
<text x="644.2" y="314.3" font-size="16.5" textLength="21.7" lengthAdjust="spacingAndGlyphs" >0.5</text>
<text x="627.2" y="276.1" font-size="16.5" textLength="38.7" lengthAdjust="spacingAndGlyphs" >0.525</text>
<text x="918.5" y="349.2" font-size="16.5" textLength="38.7" lengthAdjust="spacingAndGlyphs" >0.475</text>
<text x="918.5" y="314.3" font-size="16.5" textLength="21.7" lengthAdjust="spacingAndGlyphs" >0.5</text>
<text x="918.5" y="275.8" font-size="16.5" textLength="38.7" lengthAdjust="spacingAndGlyphs" >0.525</text>
<text x="656.7" y="401.3" font-size="16.5" textLength="38.7" lengthAdjust="spacingAndGlyphs" >0.985</text>
<text x="739.4" y="401.3" font-size="16.5" textLength="30.2" lengthAdjust="spacingAndGlyphs" >0.99</text>
<text x="813.5" y="401.3" font-size="16.5" textLength="38.7" lengthAdjust="spacingAndGlyphs" >0.995</text>
<text x="907.0" y="401.3" font-size="16.5" textLength="8.5" lengthAdjust="spacingAndGlyphs" >1</text>
<text x="776.9" y="414.9" font-size="17.2" class="it" fill="#222" textLength="6.2" lengthAdjust="spacingAndGlyphs">t</text>
<text x="793.1" y="414.9" font-size="17.2" class="it" fill="#222" textLength="6.2" lengthAdjust="spacingAndGlyphs">t</text>
<text x="799.1" y="417.3" font-size="12.2" class="it" fill="#222" textLength="6.2" lengthAdjust="spacingAndGlyphs">c</text>
<path d="M792.8,402.2 h-2.6 v16.7 h2.6 M806.9,402.2 h2.6 v16.7 h-2.6" fill="none" stroke="#111" stroke-width="0.9"/>
<text x="709.6" y="266.5" font-size="16.5" textLength="22.7" lengthAdjust="spacingAndGlyphs" >(d)</text>
</svg></div>
</body></html>
